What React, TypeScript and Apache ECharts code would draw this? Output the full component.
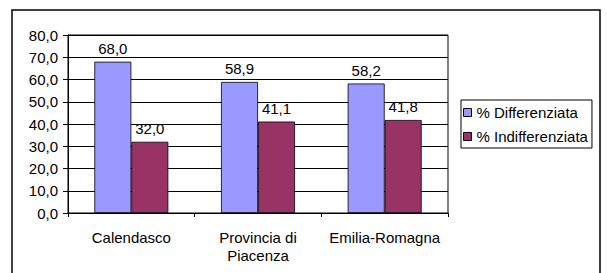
import React, { useEffect, useRef } from "react";
import * as echarts from "echarts";

const categories = ["Calendasco", "Provincia di\nPiacenza", "Emilia-Romagna"];
const differenziata = [68.0, 58.9, 58.2];
const indifferenziata = [32.0, 41.1, 41.8];
const seriesNames = ["% Differenziata", "% Indifferenziata"];
const titleText = "Percentuale di raccolta differenziata - anno 2008";

const fmt = (v: number) => v.toFixed(1).replace(".", ",");
const FONT = "Arial, 'Liberation Sans', sans-serif";
const FS = 15;

export default function App() {
  const ref = useRef<HTMLDivElement>(null);
  useEffect(() => {
    if (!ref.current) return;
    const chart = echarts.init(ref.current, undefined, { renderer: "svg" });
    chart.setOption({
      animation: false,
      backgroundColor: "#fff",
      textStyle: { fontFamily: FONT },
      grid: {
        left: 68,
        right: 159,
        top: 35,
        bottom: 60,
        show: true,
        borderColor: "#000",
        borderWidth: 1,
      },
      legend: {
        orient: "vertical",
        left: 461,
        top: 100,
        width: 134,
        padding: [5, 4, 4, 2],
        itemGap: 9,
        itemWidth: 8,
        itemHeight: 8,
        borderColor: "#000",
        borderWidth: 1,
        icon: "rect",
        textStyle: { fontFamily: FONT, fontSize: FS, color: "#000", lineHeight: 15, padding: [0, 0, 0, 0] },
        data: seriesNames.map((n) => ({ name: n, itemStyle: { borderColor: "#000", borderWidth: 1 } })),
      },
      xAxis: {
        type: "category",
        data: categories,
        axisLine: { lineStyle: { color: "#000", width: 1 } },
        axisTick: { show: true, length: 4, inside: false, alignWithLabel: false, lineStyle: { color: "#000" } },
        axisLabel: { interval: 0, hideOverlap: false, fontFamily: FONT, fontSize: FS, color: "#000", margin: 15, lineHeight: 18 },
      },
      yAxis: {
        type: "value",
        min: 0,
        max: 80,
        interval: 10,
        axisLine: { show: true, lineStyle: { color: "#000", width: 1 } },
        axisTick: { show: true, length: 5, lineStyle: { color: "#000" } },
        splitLine: { lineStyle: { color: "#000", width: 1 } },
        axisLabel: { fontFamily: FONT, fontSize: FS, color: "#000", margin: 10, formatter: fmt },
      },
      series: [
        {
          name: seriesNames[0],
          type: "bar",
          data: differenziata,
          barGap: "0%",
          barCategoryGap: "41.6%",
          itemStyle: { color: "#9999FF", borderColor: "#000", borderWidth: 0.8 },
          label: { show: true, position: "top", distance: 6, fontFamily: FONT, fontSize: FS, color: "#000", formatter: (p: any) => fmt(p.value) },
        },
        {
          name: seriesNames[1],
          type: "bar",
          data: indifferenziata,
          barGap: "0%",
          barCategoryGap: "41.6%",
          itemStyle: { color: "#993366", borderColor: "#000", borderWidth: 0.8 },
          label: { show: true, position: "top", distance: 6, fontFamily: FONT, fontSize: FS, color: "#000", formatter: (p: any) => fmt(p.value) },
        },
      ],
      graphic: [
        {
          type: "rect",
          shape: { x: 12, y: 10, width: 588, height: 280 },
          style: { fill: "none", stroke: "#000", lineWidth: 1.5 },
          silent: true,
        },
        {
          type: "text",
          x: 300,
          y: 1.5,
          style: {
            text: titleText,
            fontFamily: FONT,
            fontSize: 16,
            fontWeight: "bold",
            fill: "#777",
            align: "center",
            verticalAlign: "bottom",
          },
        },
      ],
    });
    return () => chart.dispose();
  }, []);
  return (
    <div
      ref={ref}
      style={{ position: "absolute", left: 0, top: 0, width: 607, height: 273 }}
    />
  );
}
